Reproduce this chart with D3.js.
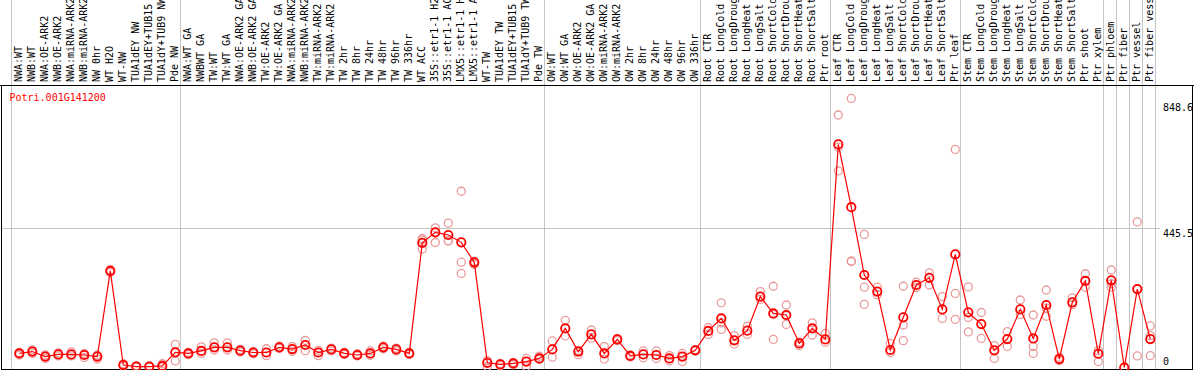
<!DOCTYPE html>
<html>
<head>
<meta charset="utf-8">
<script src="https://cdn.jsdelivr.net/npm/d3@7"></script>
<style>
  body { margin: 0; background: #fff; }
  svg { display: block; }
  text { font-family: "DejaVu Sans Mono", monospace; font-size: 10px; }
</style>
</head>
<body>
<script>
var geneName = "Potri.001G141200";

var samples = ["NWA:WT", "NWB:WT", "NWA:OE-ARK2", "NWB:OE-ARK2", "NWA:miRNA-ARK2", "NWB:miRNA-ARK2", "NW 0hr", "WT H2O",
  "WT-NW", "TUA1dEY NW", "TUA1dEY+TUB15", "TUA1dY+TUB9 NW", "Pde NW",
  "NWA:WT GA", "NWBWT GA", "TW:WT", "TW:WT GA", "NWA:OE-ARK2 GA", "NWB:OE-ARK2 GA", "TW:OE-ARK2", "TW:OE-ARK2 GA",
  "NWA:miRNA-ARK2", "NWB:miRNA-ARK2", "TW:miRNA-ARK2", "TW:miRNA-ARK2", "TW 2hr", "TW 8hr", "TW 24hr", "TW 48hr",
  "TW 96hr", "TW 336hr", "WT ACC", "35S::etr1-1 H2", "35S::etr1-1 AC", "LMX5::etr1-1 H", "LMX5::etr1-1 A",
  "WT-TW", "TUA1dEY TW", "TUA1dEY+TUB15", "TUA1dY+TUB9 TW", "Pde TW",
  "OW:WT", "OW:WT GA", "OW:OE-ARK2", "OW:OE-ARK2 GA", "OW:miRNA-ARK2", "OW:miRNA-ARK2", "OW 2hr", "OW 8hr",
  "OW 24hr", "OW 48hr", "OW 96hr", "OW 336hr",
  "Root CTR", "Root LongCold", "Root LongDroug", "Root LongHeat", "Root LongSalt", "Root ShortCold", "Root ShortDrou",
  "Root ShortHeat", "Root ShortSalt", "Ptr root",
  "Leaf CTR", "Leaf LongCold", "Leaf LongDroug", "Leaf LongHeat", "Leaf LongSalt", "Leaf ShortCold", "Leaf ShortDrou",
  "Leaf ShortHeat", "Leaf ShortSalt", "Ptr leaf",
  "Stem CTR", "Stem LongCold", "Stem LongDroug", "Stem LongHeat", "Stem LongSalt", "Stem ShortCold", "Stem ShortDrou",
  "Stem ShortHeat", "Stem ShortSalt", "Ptr shoot", "Ptr xylem",
  "Ptr phloem", "Ptr fiber", "Ptr vessel", "Ptr fiber vess"];

var means = [45, 51, 35, 42, 42, 40, 35, 309, 8, 3, 3, 5, 48.5,
  45, 53, 64.5, 64.5, 54, 48, 48, 64.5, 59, 72, 48, 58, 45, 40, 45, 64.5, 58, 45,
  399, 432.5, 424, 400.5, 336.6, 15, 10, 13, 19, 29,
  58, 125, 51, 106, 45, 90, 37, 42, 40, 29, 35, 55,
  117, 157, 87, 118, 227, 173, 168, 77, 125, 90,
  714, 513, 296, 243, 56, 160.5, 264, 287, 186, 362,
  176.5, 139, 55, 91, 186, 93, 200, 27, 208.5, 277, 44,
  279, 0, 251, 91];

var replicates = [
  [48, 40], [56, 45], [40, 29], [47, 37], [50, 37], [45, 32], [40, 27], [313, 304], [12, 4], [6, 1], [5, 1], [12, 1], [74, 48, 21],
  [48, 41], [66, 45], [79, 56], [79, 56], [58, 50], [51, 44], [60, 38], [68, 61], [67, 52], [87, 54], [55, 38], [62, 53],
  [48, 42], [44, 37], [53, 39], [68, 60], [62, 53], [48, 42],
  [413, 408, 379], [447, 432, 400], [462, 405, 406], [564, 337, 301], [340, 333, 330], [22, 3], [13, 6], [16, 9], [29, 3], [36, 26],
  [85, 33], [151, 101], [55, 41], [120, 94], [67, 27], [93, 86], [40, 34], [53, 31], [53, 29], [38, 21], [45, 19], [57, 53],
  [128, 106], [207, 122, 143], [102, 75], [132, 106], [243, 218], [260, 90, 170], [200, 138, 166], [81, 70], [143, 104], [109, 81],
  [808, 629, 705], [861, 339, 341], [426, 257, 202], [257, 233], [77, 48], [260, 136, 86], [273, 256], [303, 264], [227, 157], [698, 237, 154],
  [258, 160, 114], [176, 93], [70, 29], [115, 67], [216, 170], [168, 67, 45], [248, 164, 190], [33, 22], [223, 201], [300, 257], [54, 19],
  [312, 257, 268], [1, 0], [466, 250, 37], [133, 102, 38]];

// index of the last sample before each vertical divider
var dividers = [-1, 12, 40, 52, 62, 72, 83, 84, 85, 86, 87];

var yTicks = [0, 445.5, 848.6];
var yMax = 904;

var width = 1194, height = 370;
var plotTop = 85, plotBottom = 369;

var svg = d3.select("body").append("svg")
  .attr("width", width)
  .attr("height", height);

var x = d3.scaleLinear().domain([0, samples.length - 1]).range([19.3, 1150.3]);
var y = d3.scaleLinear().domain([0, yMax]).range([367.5, plotTop]);

// vertical dividers run through the header too
svg.selectAll("line.vgrid").data(dividers).enter().append("line")
  .attr("class", "vgrid")
  .attr("x1", function(d){ return Math.round(x(d) + 5) + 0.5; })
  .attr("x2", function(d){ return Math.round(x(d) + 5) + 0.5; })
  .attr("y1", 0).attr("y2", plotBottom)
  .attr("stroke", "#c4c4c4").attr("stroke-width", 1);

// horizontal grid, only the middle tick
svg.selectAll("line.hgrid").data(yTicks.filter(function(d){ return d > 0 && d < 800; })).enter().append("line")
  .attr("class", "hgrid")
  .attr("x1", 1).attr("x2", 1160)
  .attr("y1", function(d){ return Math.round(y(d)) + 0.5; })
  .attr("y2", function(d){ return Math.round(y(d)) + 0.5; })
  .attr("stroke", "#c4c4c4").attr("stroke-width", 1);

// frame
svg.append("line").attr("x1", 0).attr("x2", width).attr("y1", plotTop + 0.5).attr("y2", plotTop + 0.5)
  .attr("stroke", "#000");
svg.append("rect")
  .attr("x", 1.5).attr("y", plotTop + 0.5)
  .attr("width", width - 3).attr("height", plotBottom - plotTop)
  .attr("fill", "none").attr("stroke", "#000").attr("stroke-width", 1);

// sample labels, rotated
svg.selectAll("text.sample").data(samples).enter().append("text")
  .attr("class", "sample")
  .attr("transform", function(d, i){ return "translate(" + (x(i) + 2.5) + "," + 82 + ") rotate(-90)"; })
  .attr("fill", "#000")
  .text(function(d){ return d; });

// y labels on the right
svg.selectAll("text.ytick").data(yTicks).enter().append("text")
  .attr("class", "ytick")
  .attr("x", 1163)
  .attr("y", function(d){ return d === 0 ? y(d) - 2.5 : y(d) + 9; })
  .attr("fill", "#000")
  .text(function(d){ return d; });

svg.append("text")
  .attr("x", 9.5).attr("y", 101)
  .attr("fill", "#ff0000")
  .text(geneName);

// replicate points
var repPoints = [];
replicates.forEach(function(r, i){
  r.forEach(function(v){ repPoints.push({i: i, v: v}); });
});
svg.selectAll("circle.rep").data(repPoints).enter().append("circle")
  .attr("class", "rep")
  .attr("cx", function(d){ return x(d.i); })
  .attr("cy", function(d){ return y(d.v); })
  .attr("r", 4)
  .attr("fill", "none")
  .attr("stroke", "#e99a9a")
  .attr("stroke-width", 1.3);

var line = d3.line()
  .x(function(d, i){ return x(i); })
  .y(function(d){ return y(d); });

svg.append("path")
  .datum(means)
  .attr("d", line)
  .attr("fill", "none")
  .attr("stroke", "#ff0000")
  .attr("stroke-width", 1.2);

svg.selectAll("circle.mean").data(means).enter().append("circle")
  .attr("class", "mean")
  .attr("cx", function(d, i){ return x(i); })
  .attr("cy", function(d){ return y(d); })
  .attr("r", 4.2)
  .attr("fill", "none")
  .attr("stroke", "#ff0000")
  .attr("stroke-width", 1.8);
</script>
</body>
</html>
